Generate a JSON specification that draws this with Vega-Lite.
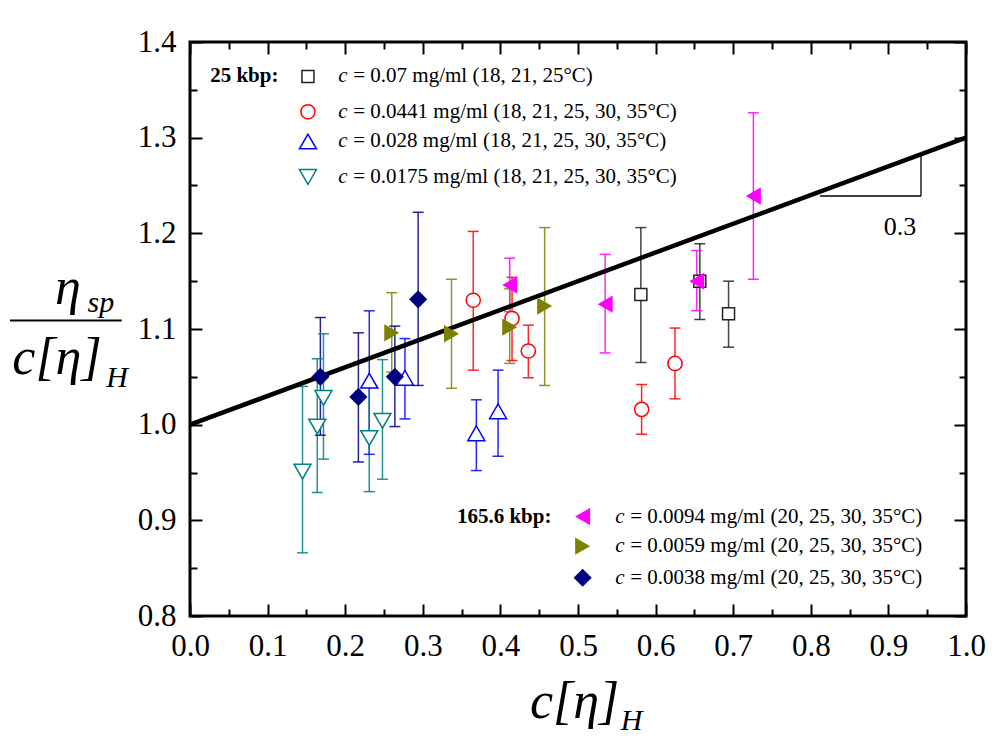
{
  "$schema": "https://vega.github.io/schema/vega-lite/v6.json",
  "width": 776,
  "height": 574,
  "autosize": {"type": "none"},
  "padding": {"left": 190, "top": 42, "right": 34, "bottom": 134},
  "background": "white",
  "config": {
    "view": {"stroke": "black", "strokeWidth": 3},
    "font": "Liberation Serif",
    "axis": {"grid": false, "domain": false, "title": null, "tickColor": "black", "tickWidth": 2, "labelColor": "black", "labelFont": "Liberation Serif", "labelFontSize": 31, "labelFlush": false, "labelOverlap": false, "labelBound": false}
  },
  "datasets": {
    "pts": [
      {"s": "a", "x": 0.581, "y": 1.136, "lo": 1.065, "hi": 1.206},
      {"s": "a", "x": 0.657, "y": 1.150, "lo": 1.110, "hi": 1.189},
      {"s": "a", "x": 0.694, "y": 1.116, "lo": 1.081, "hi": 1.150},
      {"s": "b", "x": 0.365, "y": 1.130, "lo": 1.057, "hi": 1.202},
      {"s": "b", "x": 0.415, "y": 1.111, "lo": 1.067, "hi": 1.154},
      {"s": "b", "x": 0.436, "y": 1.077, "lo": 1.049, "hi": 1.104},
      {"s": "b", "x": 0.582, "y": 1.016, "lo": 0.990, "hi": 1.042},
      {"s": "b", "x": 0.625, "y": 1.064, "lo": 1.027, "hi": 1.101},
      {"s": "c", "x": 0.231, "y": 1.046, "lo": 0.969, "hi": 1.119},
      {"s": "c", "x": 0.277, "y": 1.049, "lo": 1.006, "hi": 1.090},
      {"s": "c", "x": 0.369, "y": 0.991, "lo": 0.952, "hi": 1.026},
      {"s": "c", "x": 0.397, "y": 1.014, "lo": 0.967, "hi": 1.057},
      {"s": "d", "x": 0.145, "y": 0.951, "lo": 0.866, "hi": 1.040},
      {"s": "d", "x": 0.164, "y": 0.998, "lo": 0.929, "hi": 1.069},
      {"s": "d", "x": 0.172, "y": 1.028, "lo": 0.964, "hi": 1.095},
      {"s": "d", "x": 0.231, "y": 0.986, "lo": 0.930, "hi": 1.044},
      {"s": "d", "x": 0.248, "y": 1.004, "lo": 0.943, "hi": 1.068},
      {"s": "e", "x": 0.412, "y": 1.146, "lo": 1.118, "hi": 1.174},
      {"s": "e", "x": 0.535, "y": 1.126, "lo": 1.075, "hi": 1.178},
      {"s": "e", "x": 0.653, "y": 1.150, "lo": 1.119, "hi": 1.182},
      {"s": "e", "x": 0.726, "y": 1.239, "lo": 1.152, "hi": 1.326},
      {"s": "f", "x": 0.260, "y": 1.096, "lo": 1.055, "hi": 1.138},
      {"s": "f", "x": 0.337, "y": 1.095, "lo": 1.038, "hi": 1.152},
      {"s": "f", "x": 0.412, "y": 1.102, "lo": 1.064, "hi": 1.142},
      {"s": "f", "x": 0.457, "y": 1.124, "lo": 1.041, "hi": 1.206},
      {"s": "g", "x": 0.168, "y": 1.050, "lo": 0.989, "hi": 1.112},
      {"s": "g", "x": 0.217, "y": 1.029, "lo": 0.961, "hi": 1.096},
      {"s": "g", "x": 0.264, "y": 1.050, "lo": 0.998, "hi": 1.103},
      {"s": "g", "x": 0.294, "y": 1.131, "lo": 1.041, "hi": 1.222}
    ],
    "leg": [
      {"s": "a", "x": 0.152, "y": 1.364},
      {"s": "b", "x": 0.152, "y": 1.327},
      {"s": "c", "x": 0.152, "y": 1.296},
      {"s": "d", "x": 0.152, "y": 1.259},
      {"s": "e", "x": 0.506, "y": 0.904},
      {"s": "f", "x": 0.506, "y": 0.873},
      {"s": "g", "x": 0.506, "y": 0.840}
    ],
    "fit": [
      {"x": 0.0, "y": 1.0},
      {"x": 1.0, "y": 1.3}
    ],
    "segs": [
      {"k": "thin", "x": 0.812, "x2": 0.942, "y": 1.239, "y2": 1.239},
      {"k": "thin", "x": 0.942, "x2": 0.942, "y": 1.239, "y2": 1.281},
      {"k": "bar", "x": -0.232, "x2": -0.088, "y": 1.109, "y2": 1.109}
    ],
    "txt": [
      {"k": "ci", "x": 0.191, "y": 1.364, "t": "c"},
      {"k": "ci", "x": 0.191, "y": 1.327, "t": "c"},
      {"k": "ci", "x": 0.191, "y": 1.296, "t": "c"},
      {"k": "ci", "x": 0.191, "y": 1.259, "t": "c"},
      {"k": "ci", "x": 0.548, "y": 0.904, "t": "c"},
      {"k": "ci", "x": 0.548, "y": 0.873, "t": "c"},
      {"k": "ci", "x": 0.548, "y": 0.840, "t": "c"},
      {"k": "lt", "x": 0.191, "y": 1.364, "t": "= 0.07 mg/ml (18, 21, 25°C)"},
      {"k": "lt", "x": 0.191, "y": 1.327, "t": "= 0.0441 mg/ml (18, 21, 25, 30, 35°C)"},
      {"k": "lt", "x": 0.191, "y": 1.296, "t": "= 0.028 mg/ml (18, 21, 25, 30, 35°C)"},
      {"k": "lt", "x": 0.191, "y": 1.259, "t": "= 0.0175 mg/ml (18, 21, 25, 30, 35°C)"},
      {"k": "lt", "x": 0.548, "y": 0.904, "t": "= 0.0094 mg/ml (20, 25, 30, 35°C)"},
      {"k": "lt", "x": 0.548, "y": 0.873, "t": "= 0.0059 mg/ml (20, 25, 30, 35°C)"},
      {"k": "lt", "x": 0.548, "y": 0.840, "t": "= 0.0038 mg/ml (20, 25, 30, 35°C)"},
      {"k": "b", "x": 0.026, "y": 1.364, "t": "25 kbp:"},
      {"k": "b", "x": 0.344, "y": 0.904, "t": "165.6 kbp:"},
      {"k": "n", "x": 0.915, "y": 1.207, "t": "0.3"},
      {"k": "big", "x": -0.174, "y": 1.143, "t": "η"},
      {"k": "big", "x": -0.229, "y": 1.070, "t": "c[η]"},
      {"k": "big", "x": 0.438, "y": 0.710, "t": "c[η]"},
      {"k": "sub", "x": -0.132, "y": 1.127, "t": "sp"},
      {"k": "sub", "x": -0.108, "y": 1.049, "t": "H"},
      {"k": "sub", "x": 0.555, "y": 0.690, "t": "H"}
    ]
  },
  "resolve": {"axis": {"x": "independent", "y": "independent"}},
  "layer": [
    {
      "data": {"name": "pts"},
      "mark": {"type": "rule", "strokeWidth": 1.5, "opacity": 0.85},
      "encoding": {
        "x": {"field": "x", "type": "quantitative", "scale": {"domain": [0, 1], "nice": false, "zero": false},
          "axis": {"orient": "bottom", "values": [0, 0.1, 0.2, 0.3, 0.4, 0.5, 0.6, 0.7, 0.8, 0.9, 1.0], "format": ".1f", "tickSize": -12, "labelPadding": 27}},
        "y": {"field": "lo", "type": "quantitative", "scale": {"domain": [0.8, 1.4], "nice": false, "zero": false},
          "axis": {"orient": "left", "values": [0.8, 0.9, 1.0, 1.1, 1.2, 1.3, 1.4], "format": ".1f", "tickSize": -12, "labelPadding": 26}},
        "y2": {"field": "hi"},
        "color": {"field": "s", "type": "nominal", "legend": null, "scale": {"domain": ["a", "b", "c", "d", "e", "f", "g"], "range": ["#222222", "#FF0000", "#0000FF", "#008080", "#FF00FF", "#808000", "#000080"]}}
      }
    },
    {
      "data": {"name": "pts"},
      "mark": {"type": "tick", "orient": "horizontal", "size": 11, "thickness": 1.5, "opacity": 0.85},
      "encoding": {
        "x": {"field": "x", "type": "quantitative", "scale": {"domain": [0, 1], "nice": false, "zero": false},
          "axis": {"orient": "bottom", "values": [0.05, 0.15, 0.25, 0.35, 0.45, 0.55, 0.65, 0.75, 0.85, 0.95], "labels": false, "tickSize": -7}},
        "y": {"field": "lo", "type": "quantitative", "scale": {"domain": [0.8, 1.4], "nice": false, "zero": false},
          "axis": {"orient": "left", "values": [0.85, 0.95, 1.05, 1.15, 1.25, 1.35], "labels": false, "tickSize": -7}},
        "color": {"field": "s", "type": "nominal", "legend": null, "scale": {"domain": ["a", "b", "c", "d", "e", "f", "g"], "range": ["#222222", "#FF0000", "#0000FF", "#008080", "#FF00FF", "#808000", "#000080"]}}
      }
    },
    {
      "data": {"name": "pts"},
      "mark": {"type": "tick", "orient": "horizontal", "size": 11, "thickness": 1.5, "opacity": 0.85},
      "encoding": {
        "x": {"field": "x", "type": "quantitative", "scale": {"domain": [0, 1], "nice": false, "zero": false},
          "axis": {"orient": "top", "values": [0, 0.1, 0.2, 0.3, 0.4, 0.5, 0.6, 0.7, 0.8, 0.9, 1.0], "labels": false, "tickSize": -12}},
        "y": {"field": "hi", "type": "quantitative", "scale": {"domain": [0.8, 1.4], "nice": false, "zero": false},
          "axis": {"orient": "right", "values": [0.8, 0.9, 1.0, 1.1, 1.2, 1.3, 1.4], "labels": false, "tickSize": -12}},
        "color": {"field": "s", "type": "nominal", "legend": null, "scale": {"domain": ["a", "b", "c", "d", "e", "f", "g"], "range": ["#222222", "#FF0000", "#0000FF", "#008080", "#FF00FF", "#808000", "#000080"]}}
      }
    },
    {
      "data": {"name": "fit"},
      "mark": {"type": "line", "color": "black", "strokeWidth": 4.5},
      "encoding": {
        "x": {"field": "x", "type": "quantitative", "scale": {"domain": [0, 1], "nice": false, "zero": false},
          "axis": {"orient": "top", "values": [0.05, 0.15, 0.25, 0.35, 0.45, 0.55, 0.65, 0.75, 0.85, 0.95], "labels": false, "tickSize": -7}},
        "y": {"field": "y", "type": "quantitative", "scale": {"domain": [0.8, 1.4], "nice": false, "zero": false},
          "axis": {"orient": "right", "values": [0.85, 0.95, 1.05, 1.15, 1.25, 1.35], "labels": false, "tickSize": -7}}
      }
    },
    {
      "data": {"name": "pts"},
      "transform": [{"filter": "indexof(['a','b','c','d'], datum.s) >= 0"}],
      "mark": {"type": "point", "filled": false, "fill": "white", "fillOpacity": 1, "strokeWidth": 1.5, "opacity": 1},
      "encoding": {
        "x": {"field": "x", "type": "quantitative", "axis": null},
        "y": {"field": "y", "type": "quantitative", "axis": null},
        "stroke": {"field": "s", "type": "nominal", "legend": null, "scale": {"domain": ["a", "b", "c", "d", "e", "f", "g"], "range": ["#222222", "#FF0000", "#0000FF", "#008080", "#FF00FF", "#808000", "#000080"]}},
        "shape": {"field": "s", "type": "nominal", "legend": null, "scale": {"domain": ["a", "b", "c", "d", "e", "f", "g"], "range": ["square", "circle", "triangle-up", "triangle-down", "triangle-left", "triangle-right", "diamond"]}},
        "size": {"field": "s", "type": "nominal", "legend": null, "scale": {"type": "ordinal", "domain": ["a", "b", "c", "d", "e", "f", "g"], "range": [144, 200, 289, 289, 300, 300, 330]}}
      }
    },
    {
      "data": {"name": "pts"},
      "transform": [{"filter": "indexof(['e','f','g'], datum.s) >= 0"}],
      "mark": {"type": "point", "filled": true, "opacity": 1},
      "encoding": {
        "x": {"field": "x", "type": "quantitative", "axis": null},
        "y": {"field": "y", "type": "quantitative", "axis": null},
        "color": {"field": "s", "type": "nominal", "legend": null, "scale": {"domain": ["a", "b", "c", "d", "e", "f", "g"], "range": ["#222222", "#FF0000", "#0000FF", "#008080", "#FF00FF", "#808000", "#000080"]}},
        "shape": {"field": "s", "type": "nominal", "legend": null, "scale": {"domain": ["a", "b", "c", "d", "e", "f", "g"], "range": ["square", "circle", "triangle-up", "triangle-down", "triangle-left", "triangle-right", "diamond"]}},
        "size": {"field": "s", "type": "nominal", "legend": null, "scale": {"type": "ordinal", "domain": ["a", "b", "c", "d", "e", "f", "g"], "range": [144, 200, 289, 289, 300, 300, 330]}}
      }
    },
    {
      "data": {"name": "leg"},
      "transform": [{"filter": "indexof(['a','b','c','d'], datum.s) >= 0"}],
      "mark": {"type": "point", "filled": false, "fill": "white", "fillOpacity": 1, "strokeWidth": 1.5, "opacity": 1},
      "encoding": {
        "x": {"field": "x", "type": "quantitative", "axis": null},
        "y": {"field": "y", "type": "quantitative", "axis": null},
        "stroke": {"field": "s", "type": "nominal", "legend": null, "scale": {"domain": ["a", "b", "c", "d", "e", "f", "g"], "range": ["#222222", "#FF0000", "#0000FF", "#008080", "#FF00FF", "#808000", "#000080"]}},
        "shape": {"field": "s", "type": "nominal", "legend": null, "scale": {"domain": ["a", "b", "c", "d", "e", "f", "g"], "range": ["square", "circle", "triangle-up", "triangle-down", "triangle-left", "triangle-right", "diamond"]}},
        "size": {"field": "s", "type": "nominal", "legend": null, "scale": {"type": "ordinal", "domain": ["a", "b", "c", "d", "e", "f", "g"], "range": [144, 200, 289, 289, 300, 300, 330]}}
      }
    },
    {
      "data": {"name": "leg"},
      "transform": [{"filter": "indexof(['e','f','g'], datum.s) >= 0"}],
      "mark": {"type": "point", "filled": true, "opacity": 1},
      "encoding": {
        "x": {"field": "x", "type": "quantitative", "axis": null},
        "y": {"field": "y", "type": "quantitative", "axis": null},
        "color": {"field": "s", "type": "nominal", "legend": null, "scale": {"domain": ["a", "b", "c", "d", "e", "f", "g"], "range": ["#222222", "#FF0000", "#0000FF", "#008080", "#FF00FF", "#808000", "#000080"]}},
        "shape": {"field": "s", "type": "nominal", "legend": null, "scale": {"domain": ["a", "b", "c", "d", "e", "f", "g"], "range": ["square", "circle", "triangle-up", "triangle-down", "triangle-left", "triangle-right", "diamond"]}},
        "size": {"field": "s", "type": "nominal", "legend": null, "scale": {"type": "ordinal", "domain": ["a", "b", "c", "d", "e", "f", "g"], "range": [144, 200, 289, 289, 300, 300, 330]}}
      }
    },
    {
      "data": {"name": "segs"},
      "transform": [{"filter": "datum.k == 'thin'"}],
      "mark": {"type": "rule", "color": "black", "strokeWidth": 1.3},
      "encoding": {
        "x": {"field": "x", "type": "quantitative", "axis": null},
        "x2": {"field": "x2"},
        "y": {"field": "y", "type": "quantitative", "axis": null},
        "y2": {"field": "y2"}
      }
    },
    {
      "data": {"name": "segs"},
      "transform": [{"filter": "datum.k == 'bar'"}],
      "mark": {"type": "rule", "color": "black", "strokeWidth": 2},
      "encoding": {
        "x": {"field": "x", "type": "quantitative", "axis": null},
        "x2": {"field": "x2"},
        "y": {"field": "y", "type": "quantitative", "axis": null},
        "y2": {"field": "y2"}
      }
    },
    {
      "data": {"name": "txt"},
      "transform": [{"filter": "datum.k == 'ci'"}],
      "mark": {"type": "text", "align": "left", "baseline": "middle", "font": "Liberation Serif", "fontSize": 21, "fontStyle": "italic", "color": "black"},
      "encoding": {
        "x": {"field": "x", "type": "quantitative", "axis": null},
        "y": {"field": "y", "type": "quantitative", "axis": null},
        "text": {"field": "t"}
      }
    },
    {
      "data": {"name": "txt"},
      "transform": [{"filter": "datum.k == 'lt'"}],
      "mark": {"type": "text", "align": "left", "baseline": "middle", "dx": 15, "font": "Liberation Serif", "fontSize": 21, "color": "black"},
      "encoding": {
        "x": {"field": "x", "type": "quantitative", "axis": null},
        "y": {"field": "y", "type": "quantitative", "axis": null},
        "text": {"field": "t"}
      }
    },
    {
      "data": {"name": "txt"},
      "transform": [{"filter": "datum.k == 'b'"}],
      "mark": {"type": "text", "align": "left", "baseline": "middle", "font": "Liberation Serif", "fontSize": 21, "fontWeight": "bold", "color": "black"},
      "encoding": {
        "x": {"field": "x", "type": "quantitative", "axis": null},
        "y": {"field": "y", "type": "quantitative", "axis": null},
        "text": {"field": "t"}
      }
    },
    {
      "data": {"name": "txt"},
      "transform": [{"filter": "datum.k == 'n'"}],
      "mark": {"type": "text", "align": "center", "baseline": "middle", "font": "Liberation Serif", "fontSize": 26, "color": "black"},
      "encoding": {
        "x": {"field": "x", "type": "quantitative", "axis": null},
        "y": {"field": "y", "type": "quantitative", "axis": null},
        "text": {"field": "t"}
      }
    },
    {
      "data": {"name": "txt"},
      "transform": [{"filter": "datum.k == 'big'"}],
      "mark": {"type": "text", "align": "left", "baseline": "middle", "font": "Liberation Serif", "fontSize": 52, "fontStyle": "italic", "color": "black"},
      "encoding": {
        "x": {"field": "x", "type": "quantitative", "axis": null},
        "y": {"field": "y", "type": "quantitative", "axis": null},
        "text": {"field": "t"}
      }
    },
    {
      "data": {"name": "txt"},
      "transform": [{"filter": "datum.k == 'sub'"}],
      "mark": {"type": "text", "align": "left", "baseline": "middle", "font": "Liberation Serif", "fontSize": 30, "fontStyle": "italic", "color": "black"},
      "encoding": {
        "x": {"field": "x", "type": "quantitative", "axis": null},
        "y": {"field": "y", "type": "quantitative", "axis": null},
        "text": {"field": "t"}
      }
    }
  ]
}
